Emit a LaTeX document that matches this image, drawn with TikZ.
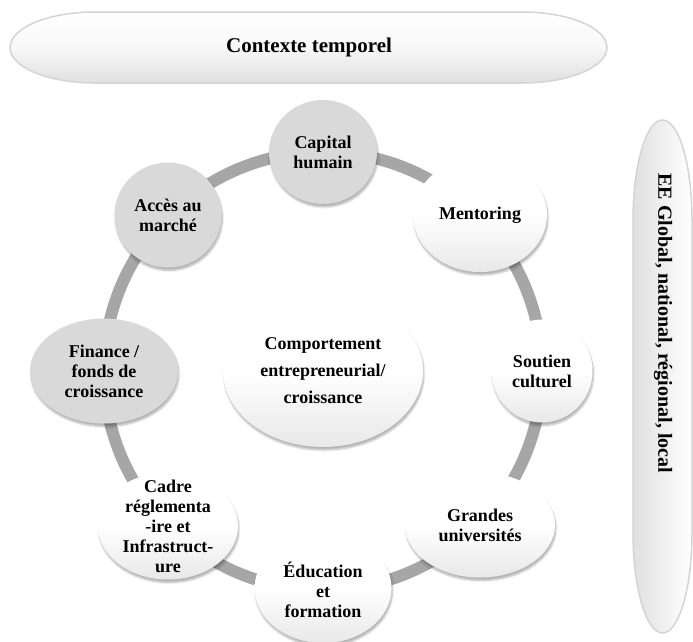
\documentclass[tikz,border=0pt]{standalone}
\usepackage{fontspec}
\setmainfont{Liberation Serif}
\usetikzlibrary{shapes.geometric,shadows.blur}
\definecolor{ringgray}{HTML}{A6A6A6}
\definecolor{nodegray}{HTML}{D9D9D9}
\definecolor{bannerline}{HTML}{D4D4D4}
\definecolor{shadegray}{HTML}{E0E0E0}
\definecolor{bubblegray}{HTML}{E8E8E8}
\begin{document}
\begin{tikzpicture}[x=1pt,y=-1pt,
  ring/.style={draw=ringgray,line width=12pt},
  bubble/.style={ellipse,inner sep=0pt,
    blur shadow={shadow xshift=1pt,shadow yshift=-3pt,shadow blur steps=6,shadow opacity=30}},
  greybub/.style={bubble,fill=nodegray},
  whitebub/.style={bubble,top color=white,bottom color=bubblegray,middle color=white},
  txt/.style={align=center,inner sep=0pt,font=\fontsize{18}{20}\selectfont\bfseries},
  banner/.style={draw=bannerline,line width=1.5pt},
  bannertext/.style={font=\fontsize{21}{24}\selectfont\bfseries}]
\useasboundingbox (0,0) rectangle (693,641);
% banners
\path[banner,top color=white,bottom color=shadegray,middle color=white!97!black]
  (95,12) -- (522,12) arc[start angle=-90,end angle=90,x radius=85,y radius=35.5]
  -- (95,83) arc[start angle=90,end angle=270,x radius=85,y radius=35.5] -- cycle;
\node[bannertext] (ctx) at (309,47) {Contexte temporel};
\path[banner,left color=shadegray,right color=white]
  (633,220) arc[start angle=180,end angle=360,x radius=29.5,y radius=100]
  -- (692,533) arc[start angle=0,end angle=180,x radius=29.5,y radius=100] -- cycle;
\node[bannertext,font=\fontsize{20}{24}\selectfont\bfseries,rotate=-90,anchor=west] (ee) at (663,170) {EE Global, national, régional, local};
% ring
\coordinate (ctr) at (323,371);
\draw[ring] (ctr) circle[radius=219];
% nodes
\node[whitebub,minimum width=200pt,minimum height=152pt] (core) at (ctr) {};
\node[txt,font=\fontsize{18}{27}\selectfont\bfseries] (core-t) at (core) {Comportement\\entrepreneurial/\\croissance};
\node[greybub,minimum width=108pt,minimum height=104pt] (cap) at (323,152) {};
\node[txt] (cap-t) at (cap) {Capital\\humain};
\node[whitebub,minimum width=134pt,minimum height=114pt] (men) at (480,215) {};
\node[txt] (men-t) at (men) {Mentoring};
\node[whitebub,minimum width=101pt,minimum height=103pt] (sou) at (542,371) {};
\node[txt] (sou-t) at (sou) {Soutien\\culturel};
\node[whitebub,minimum width=150pt,minimum height=105pt] (gra) at (480,525) {};
\node[txt] (gra-t) at (gra) {Grandes\\universités};
\node[whitebub,minimum width=137pt,minimum height=110pt] (edu) at (323,588) {};
\node[txt] (edu-t) at ([yshift=-2pt]edu.center) {Éducation\\et\\formation};
\node[whitebub,minimum width=140pt,minimum height=107pt] (cad) at (168,526) {};
\node[txt] (cad-t) at (cad) {Cadre\\réglementa\\-ire et\\Infrastruct-\\ure};
\node[greybub,minimum width=148pt,minimum height=105pt] (fin) at (104,371) {};
\node[txt] (fin-t) at (fin) {Finance /\\fonds de\\croissance};
\node[greybub,minimum width=107pt,minimum height=105pt] (acc) at (168,215) {};
\node[txt] (acc-t) at (acc) {Accès au\\marché};
\end{tikzpicture}
\end{document}
